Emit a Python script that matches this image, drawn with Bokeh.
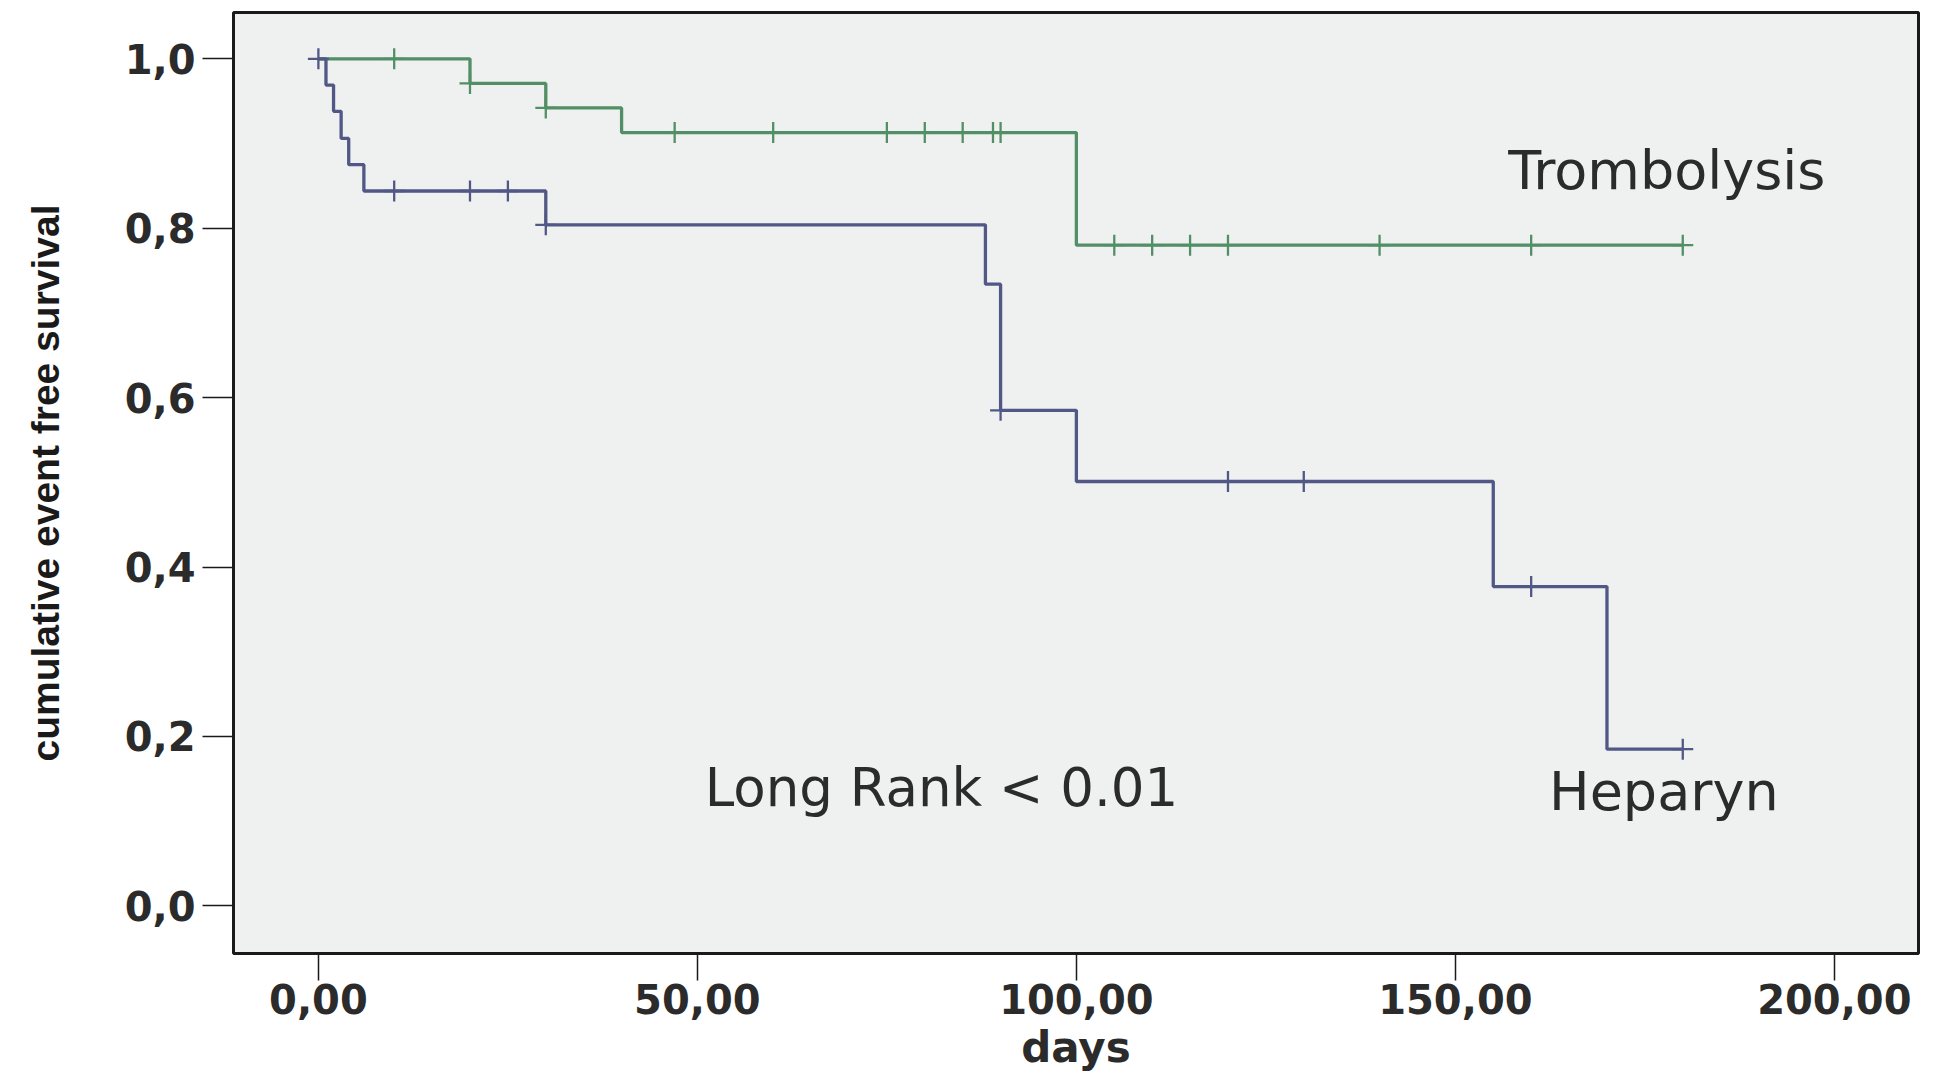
from bokeh.plotting import figure
from bokeh.models import FixedTicker, Label, ColumnDataSource, Range1d
from bokeh.embed import file_html
from bokeh.resources import INLINE

# ---------------- data ----------------
x_ticks = [0, 50, 100, 150, 200]
x_tick_labels = ["0,00", "50,00", "100,00", "150,00", "200,00"]
y_ticks = [0.0, 0.2, 0.4, 0.6, 0.8, 1.0]
y_tick_labels = ["0,0", "0,2", "0,4", "0,6", "0,8", "1,0"]

# Heparyn group (blue)
hep_event_days = [1, 2, 3, 4, 6, 30, 88, 90, 100, 155, 170]
hep_survival = [0.969, 0.938, 0.906, 0.875, 0.844, 0.804, 0.734, 0.585, 0.501, 0.377, 0.185]
hep_censor_days = [0, 10, 20, 25, 30, 90, 120, 130, 160, 180]

# Trombolysis group (green)
tro_event_days = [20, 30, 40, 100]
tro_survival = [0.971, 0.942, 0.913, 0.780]
tro_censor_days = [10, 20, 30, 47, 60, 75, 80, 85, 89, 90, 105, 110, 115, 120, 140, 160, 180]

GREEN = "#528f66"
BLUE = "#515886"
TEXT = "#2b2b2b"


def surv_at(t, days, surv):
    s = 1.0
    for d, v in zip(days, surv):
        if d <= t:
            s = v
    return s


def step_source(days, surv, censor):
    end = max(censor)
    xs = [0] + list(days) + [end]
    ys = [1.0] + list(surv) + [surv[-1]]
    return ColumnDataSource(dict(x=xs, y=ys))


def censor_source(days, surv, censor):
    return ColumnDataSource(dict(x=list(censor), y=[surv_at(c, days, surv) for c in censor]))


W, H = 1944, 1076
p = figure(
    width=W, height=H,
    x_range=Range1d(-11.2, 211.1), y_range=Range1d(-0.0562, 1.0547),
    output_backend="svg", toolbar_location=None,
    min_border_left=233, min_border_right=W - 1918, min_border_top=12, min_border_bottom=H - 953,
)
p.background_fill_color = "#eff1f0"
p.border_fill_color = "white"
p.outline_line_color = "#1a1a1a"
p.outline_line_width = 3
p.grid.visible = False

# lines
p.step("x", "y", source=step_source(tro_event_days, tro_survival, tro_censor_days),
       mode="after", line_color=GREEN, line_width=3.3)
p.step("x", "y", source=step_source(hep_event_days, hep_survival, hep_censor_days),
       mode="after", line_color=BLUE, line_width=3.3)

# censor marks
p.scatter("x", "y", source=censor_source(tro_event_days, tro_survival, tro_censor_days),
          marker="cross", size=21, line_color=GREEN, line_width=2.3)
p.scatter("x", "y", source=censor_source(hep_event_days, hep_survival, hep_censor_days),
          marker="cross", size=21, line_color=BLUE, line_width=2.3)

# axes
for ax in (p.xaxis[0], p.yaxis[0]):
    ax.axis_line_color = None
    ax.major_tick_in = 0
    ax.minor_tick_line_color = None
    ax.major_tick_line_color = "#1a1a1a"
    ax.major_tick_line_width = 1.5
    ax.major_label_text_font = "DejaVu Sans"
    ax.major_label_text_font_style = "bold"
    ax.major_label_text_font_size = "40px"
    ax.major_label_text_color = TEXT

p.xaxis.ticker = FixedTicker(ticks=x_ticks)
p.xaxis.major_label_overrides = {t: l for t, l in zip(x_ticks, x_tick_labels)}
p.xaxis.major_tick_out = 27
p.xaxis.major_label_standoff = 3
p.xaxis.axis_label = "days"
p.xaxis.axis_label_text_font = "DejaVu Sans"
p.xaxis.axis_label_text_font_style = "bold"
p.xaxis.axis_label_text_font_size = "42px"
p.xaxis.axis_label_text_color = TEXT
p.xaxis.axis_label_standoff = 6

p.yaxis.ticker = FixedTicker(ticks=y_ticks)
p.yaxis.major_label_overrides = {t: l for t, l in zip(y_ticks, y_tick_labels)}
p.yaxis.major_tick_out = 31
p.yaxis.major_label_standoff = 7
p.yaxis.axis_label = "cumulative event free survival"
p.yaxis.axis_label_text_font = "Liberation Sans"
p.yaxis.axis_label_text_font_style = "bold"
p.yaxis.axis_label_text_font_size = "39px"
p.yaxis.axis_label_text_color = "#1a1a1a"
p.yaxis.axis_label_standoff = 55

# annotations
p.add_layout(Label(x=177.9, y=0.868, text="Trombolysis", text_align="center",
                   text_baseline="alphabetic", text_font="DejaVu Sans",
                   text_font_size="54px", text_color=TEXT))
p.add_layout(Label(x=177.5, y=0.135, text="Heparyn", text_align="center",
                   text_baseline="alphabetic", text_font="DejaVu Sans",
                   text_font_size="54px", text_color=TEXT))
p.add_layout(Label(x=82.2, y=0.140, text="Long Rank < 0.01", text_align="center",
                   text_baseline="alphabetic", text_font="DejaVu Sans",
                   text_font_size="53px", text_color=TEXT))

open("out.html", "w").write(file_html(p, INLINE))
